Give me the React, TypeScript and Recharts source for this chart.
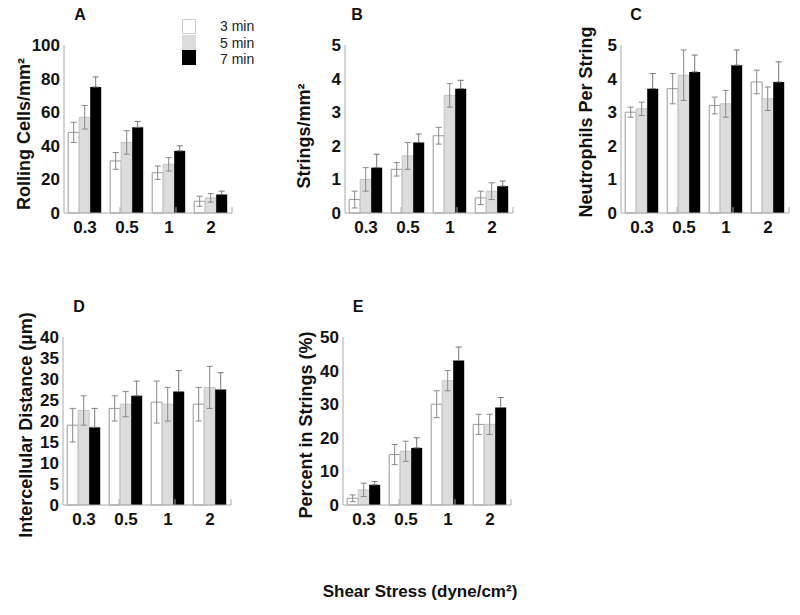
import React from 'react';
import { BarChart, Bar, XAxis, YAxis, ErrorBar, ReferenceLine } from 'recharts';

const categories = ['0.3', '0.5', '1', '2'];
const groupEdges = [1, 2, 3, 4];

// A: rolling cells / mm2
const rolling3 = [48, 31, 24, 7];
const rolling5 = [57, 42, 29, 9];
const rolling7 = [75, 51, 37, 11];
const rollingErr3 = [6, 5, 4, 3];
const rollingErr5 = [7, 7, 4, 2.5];
const rollingErr7 = [6, 3.5, 3, 2];

// B: strings / mm2
const strings3 = [0.4, 1.3, 2.3, 0.45];
const strings5 = [1.0, 1.7, 3.5, 0.65];
const strings7 = [1.35, 2.1, 3.7, 0.8];
const stringsErr3 = [0.25, 0.2, 0.25, 0.2];
const stringsErr5 = [0.35, 0.4, 0.35, 0.25];
const stringsErr7 = [0.4, 0.25, 0.25, 0.15];

// C: neutrophils per string
const perString3 = [3.0, 3.7, 3.2, 3.9];
const perString5 = [3.1, 4.1, 3.25, 3.4];
const perString7 = [3.7, 4.2, 4.4, 3.9];
const perStringErr3 = [0.15, 0.45, 0.25, 0.35];
const perStringErr5 = [0.2, 0.75, 0.4, 0.35];
const perStringErr7 = [0.45, 0.5, 0.45, 0.6];

// D: intercellular distance
const dist3 = [19, 23, 24.5, 24];
const dist5 = [22.5, 24, 24, 28];
const dist7 = [18.5, 26, 27, 27.5];
const distErr3 = [4, 3, 5, 4];
const distErr5 = [3.5, 3, 4, 5];
const distErr7 = [4.5, 3.5, 5, 4];

// E: percent in strings
const pct3 = [2, 15, 30, 24];
const pct5 = [4.5, 16, 37, 24];
const pct7 = [6, 17, 43, 29];
const pctErr3 = [1, 3, 4, 3];
const pctErr5 = [2, 3, 3, 3];
const pctErr7 = [1, 3, 4, 3];

const rows = (v3: number[], v5: number[], v7: number[], e3: number[], e5: number[], e7: number[]) =>
  categories.map((c, i) => ({ cat: c, v3: v3[i], v5: v5[i], v7: v7[i], e3: e3[i], e5: e5[i], e7: [0, e7[i]] }));

const FONT = "'Liberation Sans', Arial, sans-serif";
const PLOT_W = 168;
const PLOT_H = 168;
const Y_W = 42;
const M_TOP = 10;
const X_H = 30;
const M_RIGHT = 5;
const tickStyle = { fontSize: 17, fontWeight: 'bold', fill: '#111', fontFamily: FONT };

interface PanelProps {
  left: number; // x of y-axis line
  top: number; // y of max value
  data: any[];
  max: number;
  ticks: number[];
}

const Panel = ({ left, top, data, max, ticks }: PanelProps) => (
  <div style={{ position: 'absolute', left: left - Y_W, top: top - M_TOP }}>
    <BarChart
      width={Y_W + PLOT_W + M_RIGHT}
      height={M_TOP + PLOT_H + X_H}
      data={data}
      margin={{ top: M_TOP, right: M_RIGHT, left: 0, bottom: 0 }}
      barCategoryGap="10%"
      barGap={0}
    >
      <XAxis
        dataKey="cat"
        interval={0}
        height={X_H}
        tickLine={false}
        axisLine={{ stroke: '#aaa' }}
        tick={tickStyle}
      />
      <XAxis xAxisId="groups" type="number" domain={[0, 4]} hide />
      <YAxis
        width={Y_W}
        domain={[0, max]}
        ticks={ticks}
        interval={0}
        tickLine={false}
        tickSize={2}
        axisLine={{ stroke: '#aaa' }}
        tick={tickStyle}
      />
      {groupEdges.map((g) => (
        <ReferenceLine
          key={g}
          xAxisId="groups"
          segment={[{ x: g, y: 0 }, { x: g, y: max * 0.035 }]}
          stroke="#aaa"
          ifOverflow="visible"
        />
      ))}
      <Bar dataKey="v3" fill="#ffffff" stroke="#999" strokeWidth={1} isAnimationActive={false}>
        <ErrorBar dataKey="e3" width={3} stroke="#888" strokeWidth={1} />
      </Bar>
      <Bar dataKey="v5" fill="#dcdcdc" stroke="#c4c4c4" strokeWidth={1} isAnimationActive={false}>
        <ErrorBar dataKey="e5" width={3} stroke="#888" strokeWidth={1} />
      </Bar>
      <Bar dataKey="v7" fill="#000000" isAnimationActive={false}>
        <ErrorBar dataKey="e7" width={3} stroke="#777" strokeWidth={1} />
      </Bar>
    </BarChart>
  </div>
);

const YTitle = ({ x, y, children }: { x: number; y: number; children: React.ReactNode }) => (
  <div
    style={{
      position: 'absolute', left: x, top: y, transform: 'translate(-50%, -50%) rotate(-90deg)',
      whiteSpace: 'nowrap', fontSize: 18, fontWeight: 'bold', color: '#111',
    }}
  >
    {children}
  </div>
);

const PanelLetter = ({ x, y, children }: { x: number; y: number; children: React.ReactNode }) => (
  <div style={{ position: 'absolute', left: x, top: y, transform: 'translate(-50%, -50%)', fontSize: 16, fontWeight: 'bold', color: '#111' }}>
    {children}
  </div>
);

const legendItems = [
  { label: '3 min', fill: '#ffffff', border: '#ccc' },
  { label: '5 min', fill: '#dcdcdc', border: '#ddd' },
  { label: '7 min', fill: '#000000', border: '#000' },
];

export default function App() {
  return (
    <div style={{ position: 'absolute', left: 0, top: 0, width: 800, height: 615, background: '#fff', fontFamily: FONT, overflow: 'hidden' }}>
      <Panel left={64} top={45} max={100} ticks={[0, 20, 40, 60, 80, 100]}
        data={rows(rolling3, rolling5, rolling7, rollingErr3, rollingErr5, rollingErr7)} />
      <Panel left={345} top={45} max={5} ticks={[0, 1, 2, 3, 4, 5]}
        data={rows(strings3, strings5, strings7, stringsErr3, stringsErr5, stringsErr7)} />
      <Panel left={621} top={45} max={5} ticks={[0, 1, 2, 3, 4, 5]}
        data={rows(perString3, perString5, perString7, perStringErr3, perStringErr5, perStringErr7)} />
      <Panel left={63} top={337} max={40} ticks={[0, 5, 10, 15, 20, 25, 30, 35, 40]}
        data={rows(dist3, dist5, dist7, distErr3, distErr5, distErr7)} />
      <Panel left={343} top={337} max={50} ticks={[0, 10, 20, 30, 40, 50]}
        data={rows(pct3, pct5, pct7, pctErr3, pctErr5, pctErr7)} />

      <YTitle x={24} y={134}>Rolling Cells/mm²</YTitle>
      <YTitle x={304} y={136}>Strings/mm²</YTitle>
      <YTitle x={586} y={122}>Neutrophils Per String</YTitle>
      <YTitle x={26} y={425}>Intercellular Distance (µm)</YTitle>
      <YTitle x={306} y={425}>Percent in Strings (%)</YTitle>

      <PanelLetter x={80} y={15}>A</PanelLetter>
      <PanelLetter x={357} y={15}>B</PanelLetter>
      <PanelLetter x={636} y={15}>C</PanelLetter>
      <PanelLetter x={79} y={307}>D</PanelLetter>
      <PanelLetter x={358} y={307}>E</PanelLetter>

      {legendItems.map((it, i) => (
        <React.Fragment key={it.label}>
          <div style={{ position: 'absolute', left: 182, top: 19 + i * 15.5, width: 14, height: 15, background: it.fill, border: `1px solid ${it.border}`, boxSizing: 'border-box' }} />
          <div style={{ position: 'absolute', left: 220, top: 26 + i * 16.5, transform: 'translateY(-50%)', fontSize: 14, color: '#222' }}>{it.label}</div>
        </React.Fragment>
      ))}

      <div style={{ position: 'absolute', left: 420, top: 592, transform: 'translate(-50%, -50%)', fontSize: 17, fontWeight: 'bold', color: '#111', whiteSpace: 'nowrap' }}>
        Shear Stress (dyne/cm²)
      </div>
    </div>
  );
}
